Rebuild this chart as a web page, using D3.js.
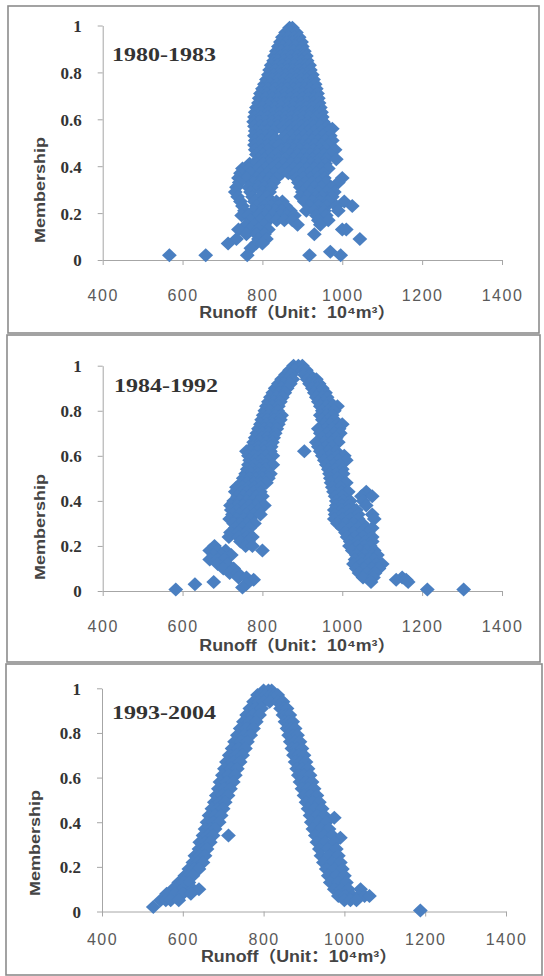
<!DOCTYPE html>
<html><head><meta charset="utf-8">
<script src="https://cdn.jsdelivr.net/npm/d3@7"></script>
<style>body{margin:0;background:#fff}</style>
</head><body>
<svg id="c" width="544" height="976"></svg>
<script>
const xTicks = [400, 600, 800, 1000, 1200, 1400];
const yTicks = [0, 0.2, 0.4, 0.6, 0.8, 1];
const yTickLabels = ["0", "0.2", "0.4", "0.6", "0.8", "1"];
const periods = ["1980-1983", "1984-1992", "1993-2004"];
const xTitle = "Runoff（Unit：10⁴m³）";
const yTitle = "Membership";

// each row: [membership, runoff, runoff, ...]
const rows1980 = [
  [0.99,868,875],[0.97,858,872,885],[0.95,850,865,880,892],[0.93,845,860,875,890,898],
  [0.91,840,852,868,883,900],[0.89,835,848,862,878,893,905],[0.87,830,845,858,872,888,902,910],
  [0.85,828,840,855,870,885,898,912],[0.83,822,838,850,866,880,895,908,918],
  [0.81,818,832,848,862,876,892,905,920],[0.79,815,828,845,858,873,888,902,915,925],
  [0.77,810,825,840,855,870,885,898,912,928],[0.75,805,820,836,850,866,880,895,910,925,932],
  [0.73,800,815,832,848,862,878,892,906,920,935],[0.71,795,812,828,845,858,872,888,902,918,938],
  [0.69,792,808,825,840,855,870,885,900,915,930,940],[0.67,790,805,820,835,852,866,882,898,912,928,942],
  [0.65,785,800,818,832,848,864,878,895,910,925,945],[0.63,782,798,815,830,845,860,875,892,906,922,940,948],
  [0.61,780,795,812,828,842,858,872,888,902,918,935,950],[0.59,778,792,810,825,840,856,870,885,900,915,930,952],
  [0.57,780,795,808,822,838,852,868,882,898,912,928,945,962],[0.56,975],
  [0.55,782,798,812,828,855,870,885,900,915,930,948,965],[0.53,780,795,810,825,858,874,888,905,920,935,952,970],
  [0.51,782,798,815,830,845,862,878,892,908,925,940,958,975],[0.49,780,795,812,828,842,870,885,900,915,932,948,965],
  [0.47,782,800,815,848,865,880,895,912,928,945,960,982],[0.45,785,802,818,835,870,888,905,920,938,955,970],
  [0.43,790,805,822,840,858,878,895,910,925,942,960,985],[0.41,768,785,802,820,838,855,872,890,906,922,940,958],
  [0.39,750,766,790,808,825,842,860,878,895,912,930,948,965],[0.37,745,770,795,812,830,848,865,882,900,918,935,952],
  [0.35,740,760,785,800,818,835,885,902,920,938,955,1000],[0.33,742,778,795,810,828,890,908,925,942,960,990],
  [0.31,735,765,790,805,822,895,912,930,948,972],[0.29,732,770,800,818,900,920,940,960,980],
  [0.27,738,775,795,812,896,912,935,950,975],[0.25,745,780,800,820,835,850,905,925,945,965,1005],
  [0.23,750,785,805,822,842,858,918,940,960,985,1025],[0.21,755,778,800,815,835,850,870,910,930,955,990],
  [0.19,748,765,790,808,825,845,862,880,935,960],[0.17,770,795,815,836,855,875,940,965],
  [0.15,760,780,805,888,945],[0.13,740,770,790,815,1000,1010],[0.11,760,785,805,930],
  [0.09,735,790,810,1044],[0.07,714,784,800],[0.05,771],[0.035,970],[0.02,567,658,762,918,996]
];
const rows1984 = [
  [1.00,878,890,900],[0.98,868,880,900,910],[0.96,858,872,905,918],[0.94,848,862,876,912,925,935],
  [0.92,840,855,870,918,932,942],[0.90,832,848,862,925,938,950],[0.88,826,842,856,930,945,958],
  [0.86,820,835,850,935,950,962],[0.84,815,830,845,940,955,968],[0.82,810,825,840,945,960,975,988],
  [0.80,806,820,838,950,965,980],[0.78,802,816,832,848,945,960,975],[0.76,798,812,828,845,950,965,980],
  [0.74,795,810,825,840,955,970,988,1000],[0.72,790,805,820,836,940,958,975,992],
  [0.70,786,800,815,832,945,962,980,995],[0.68,782,798,812,828,950,968,985],
  [0.66,778,795,810,825,935,955,972,990],[0.64,775,790,806,822,940,958,975],
  [0.62,760,772,788,804,820,905,945,965,985],[0.60,765,780,795,810,826,950,968,988,1005],
  [0.58,768,782,798,814,955,972,990,1010],[0.56,765,780,795,810,826,960,978,995],
  [0.54,762,776,792,808,965,982,1000],[0.52,758,772,788,804,820,968,985,1002],
  [0.50,752,768,784,800,815,970,988],[0.48,748,762,778,795,810,972,992,1010],
  [0.46,735,750,765,780,796,975,995],[0.44,732,748,762,778,795,978,998,1015,1060],
  [0.42,738,752,768,784,800,982,1000,1048,1075],[0.40,728,744,760,776,792,985,1002,1020,1052],
  [0.38,720,736,752,768,784,805,985,1000,1018,1060],[0.36,722,738,755,772,790,980,998,1015,1035],
  [0.34,725,742,760,778,795,982,1000,1020,1040,1075],[0.32,718,735,752,770,980,1000,1020,1040,1080],
  [0.30,728,745,762,780,988,1008,1028,1050],[0.28,732,750,768,1000,1020,1040,1060,1075],
  [0.26,720,740,760,1008,1028,1048,1065],[0.24,716,740,760,775,1012,1032,1052,1075],
  [0.22,745,765,1020,1040,1058,1075],[0.20,680,758,775,1018,1038,1055,1070],
  [0.18,668,688,708,800,1025,1045,1062,1080],[0.16,678,698,722,1035,1055,1075,1088],
  [0.14,668,688,705,1032,1050,1068,1080],[0.12,688,712,1028,1048,1065,1085,1100],
  [0.10,702,728,1035,1055,1075,1092],[0.08,718,738,1042,1062,1082],[0.06,740,760,1052,1078,1150],
  [0.05,778,1135,1160],[0.04,678,1072,1165],[0.03,631,760],[0.015,750],[0.007,583,1213,1304]
];
const rows1993 = [
  [0.99,800,812,820],[0.97,785,795,805,818,828,835],[0.94,775,788,800,815,835,848],[0.91,766,780,795,842,850,858],
  [0.88,758,774,790,848,856,865],[0.85,750,766,782,853,862,872],[0.82,742,758,775,858,868,878],
  [0.79,735,752,768,862,873,884],[0.76,728,744,760,866,878,890],[0.73,722,738,755,870,882,895],
  [0.70,715,732,748,874,887,900],[0.67,708,725,742,878,891,905],[0.64,703,719,735,882,896,910],
  [0.61,698,714,730,886,900,915],[0.58,692,708,725,890,905,920],[0.55,688,703,718,895,910,925],
  [0.52,683,698,712,900,916,932],[0.49,678,692,705,905,921,938],[0.46,672,686,700,910,927,945],
  [0.43,665,680,695,915,932,950],[0.42,975],[0.40,660,675,690,918,936,955],[0.37,655,668,680,922,942,962],
  [0.34,650,662,675,713,928,949,970],[0.33,990],[0.31,642,655,668,932,953,975],[0.28,640,650,660,938,959,980],
  [0.25,630,642,655,942,963,985],[0.22,625,638,650,948,969,990],[0.19,615,628,640,955,975,995],
  [0.16,605,615,625,960,980,1000],[0.13,590,602,615,965,985,1005],
  [0.10,575,600,625,640,975,992,1010,1040],[0.08,560,580,600,620],[0.07,985,1002,1020,1035,1050,1062],
  [0.05,545,558,570,590,1000,1015,1030],[0.02,527],[0.005,1188]
];
const seriesRows = [rows1980, rows1984, rows1993];

const layout = [
  {frame:[8,6,531,327],  x0:102.7, x1:502, yt:25.5,  yb:260,   lab:295, title:312, yTitleX:40, yTitleY:190, px:112, py:54},
  {frame:[7,335,533,327],x0:102.7, x1:502, yt:365.7, yb:591,   lab:626, title:645, yTitleX:40, yTitleY:527, px:114, py:385},
  {frame:[6,664,536,311],x0:102,   x1:506, yt:688.3, yb:911.5, lab:939, title:956, yTitleX:35, yTitleY:843, px:112, py:712}
];
const color = "#4a7fc1";
const svg = d3.select("#c");

seriesRows.forEach((rows, i) => {
  const L = layout[i];
  const pts = rows.flatMap(r => r.slice(1).map(x => ({x, y: r[0]})));
  const g = svg.append("g");
  g.append("rect").attr("x", L.frame[0]).attr("y", L.frame[1]).attr("width", L.frame[2]).attr("height", L.frame[3])
    .attr("fill", "none").attr("stroke", "#8c8c8c").attr("stroke-width", 1.6);
  const x = d3.scaleLinear().domain([400, 1400]).range([L.x0, L.x1]);
  const y = d3.scaleLinear().domain([0, 1]).range([L.yb, L.yt]);

  const xa = g.append("g").attr("transform", `translate(0,${L.yb})`)
    .call(d3.axisBottom(x).tickValues(xTicks).tickSize(5).tickSizeOuter(0).tickFormat(d3.format("d")));
  xa.select(".domain").attr("stroke", "#a6a6a6");
  xa.selectAll(".tick line").attr("stroke", "#a6a6a6");
  xa.selectAll(".tick text").attr("y", L.lab - L.yb).attr("dy", "0.35em")
    .attr("font-family", "Liberation Sans, Arial, sans-serif").attr("font-size", 16).attr("letter-spacing", 1.5)
    .attr("fill", "#5a5a5a");

  const ya = g.append("g").attr("transform", `translate(${L.x0},0)`)
    .call(d3.axisLeft(y).tickValues(yTicks).tickSize(5).tickSizeOuter(0).tickFormat((d, k) => yTickLabels[k]));
  ya.select(".domain").attr("stroke", "#a6a6a6");
  ya.selectAll(".tick line").attr("stroke", "#a6a6a6");
  ya.selectAll(".tick text").attr("x", -21).attr("dy", "0.35em")
    .attr("font-family", "Liberation Serif, Times New Roman, serif").attr("font-weight", "bold").attr("font-size", 17)
    .attr("fill", "#333");

  g.append("g").selectAll("path").data(pts).join("path")
    .attr("transform", d => `translate(${x(d.x)},${y(d.y)})`)
    .attr("d", "M0,-7L7.4,0L0,7L-7.4,0Z")
    .attr("fill", color);

  g.append("text").attr("x", L.px).attr("y", L.py).attr("dy", "0.35em")
    .attr("font-family", "Liberation Serif, Times New Roman, serif").attr("font-weight", "bold").attr("font-size", 19)
    .attr("textLength", 104).attr("lengthAdjust", "spacingAndGlyphs")
    .attr("fill", "#333").text(periods[i]);

  g.append("text").attr("x", (L.x0 + L.x1) / 2 - 5).attr("y", L.title).attr("dy", "0.35em").attr("text-anchor", "middle")
    .attr("font-family", "Liberation Sans, Noto Sans CJK SC, sans-serif").attr("font-weight", "bold").attr("font-size", 16)
    .attr("textLength", 196).attr("lengthAdjust", "spacingAndGlyphs")
    .attr("fill", "#444").text(xTitle);

  g.append("text").attr("transform", `translate(${L.yTitleX},${L.yTitleY}) rotate(-90)`).attr("dy", "0.35em")
    .attr("text-anchor", "middle")
    .attr("font-family", "Liberation Sans, sans-serif").attr("font-weight", "bold").attr("font-size", 15)
    .attr("textLength", 106).attr("lengthAdjust", "spacingAndGlyphs")
    .attr("fill", "#444").text(yTitle);
});
</script>
</body></html>
